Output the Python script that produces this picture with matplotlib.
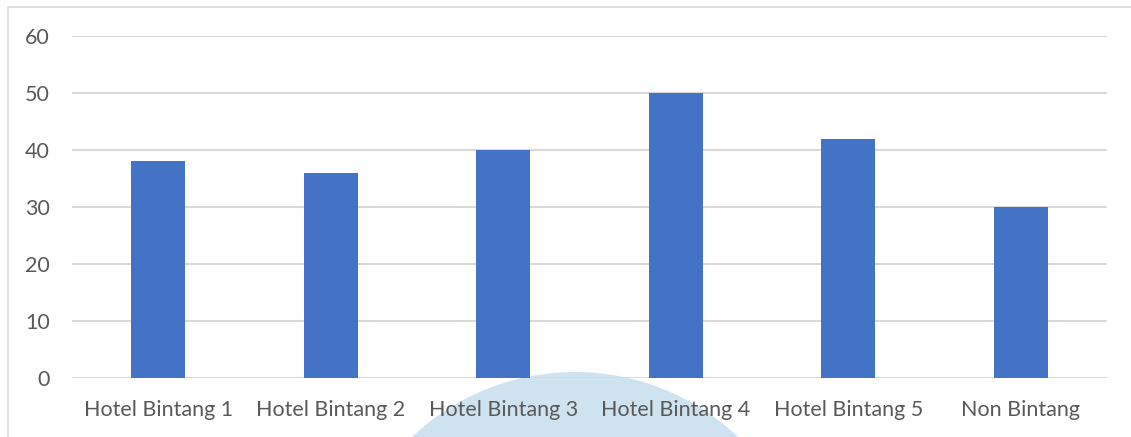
import matplotlib
matplotlib.use("Agg")
import matplotlib.pyplot as plt
from matplotlib.patches import Ellipse
from matplotlib.lines import Line2D

# data
categories = ["Hotel Bintang 1", "Hotel Bintang 2", "Hotel Bintang 3",
              "Hotel Bintang 4", "Hotel Bintang 5", "Non Bintang"]
values = [38, 36, 40, 50, 42, 30]
yticks = [0, 10, 20, 30, 40, 50, 60]

BAR_COLOR = "#4472c4"
GRID_COLOR = "#d9d9d9"
TEXT_COLOR = "#595959"

plt.rcParams["font.family"] = ["Lato", "DejaVu Sans"]

W, H = 1131, 437
fig = plt.figure(figsize=(W / 100, H / 100), dpi=100)

# faint watermark circle behind the chart
fig.patches.append(Ellipse((575 / W, 1 - 609 / H), 2 * 237 / W, 2 * 237 / H,
                           transform=fig.transFigure, facecolor="#cfe2ef",
                           edgecolor="none", zorder=-1))
# chart frame (left and top edges only visible)
fig.add_artist(Line2D([8 / W, 8 / W, 1.0], [0.0, 1 - 7 / H, 1 - 7 / H],
                      transform=fig.transFigure, color=GRID_COLOR, lw=1.2))

ax = fig.add_axes([72 / W, 1 - 378 / H, (1107 - 72) / W, (378 - 36) / H])
ax.patch.set_alpha(0)

x = range(len(categories))
ax.bar(x, values, width=0.313, color=BAR_COLOR, zorder=3)

ax.set_xlim(-0.5, len(categories) - 0.5)
ax.set_ylim(0, 60)
ax.set_yticks(yticks)
ax.set_xticks(list(x))
ax.set_xticklabels(categories)

for s in ax.spines.values():
    s.set_visible(False)
ax.grid(axis="y", color=GRID_COLOR, lw=1.5, zorder=0)
ax.tick_params(axis="both", length=0, labelsize=15.5, colors=TEXT_COLOR)
ax.tick_params(axis="y", pad=16)
ax.tick_params(axis="x", pad=16)

fig.savefig("out.png", dpi=100)
